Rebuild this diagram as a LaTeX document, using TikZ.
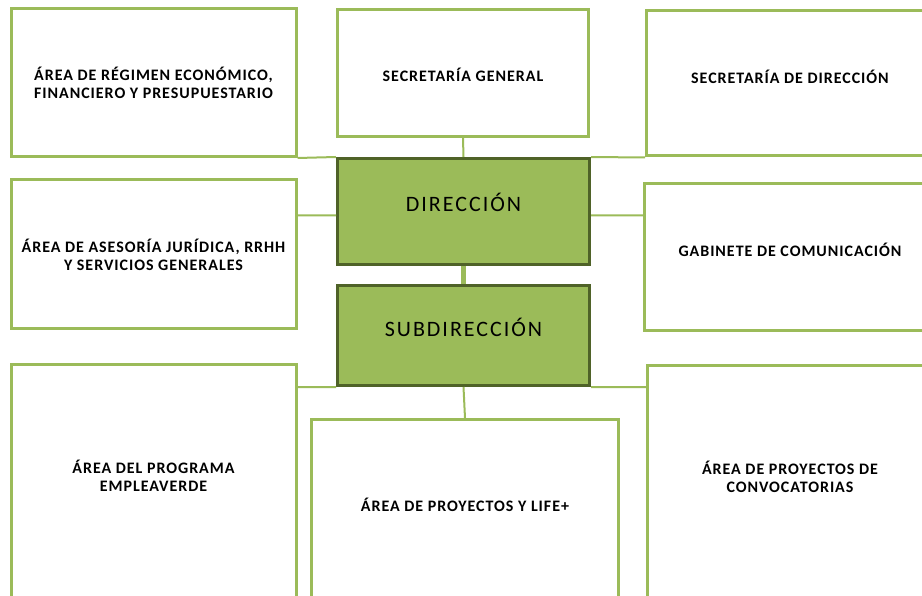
\documentclass[tikz,border=0pt]{standalone}
\usepackage{fontspec}
\setmainfont{Carlito}
\newfontfamily\areafont[LetterSpace=6]{Carlito}
\newfontfamily\jefefont[LetterSpace=9]{Carlito}
\usepackage{xcolor}
\usetikzlibrary{positioning}
\definecolor{verde}{HTML}{9BBB59}
\definecolor{verdeosc}{HTML}{4F6228}

\begin{document}
\begin{tikzpicture}[x=1pt,y=-1pt,semithick]
	\tikzstyle{area}=[draw=verde,line width=3pt,fill=white,text=black,align=center,inner sep=2pt,font=\areafont\bfseries\fontsize{16}{18}\selectfont]
	\tikzstyle{jefe}=[draw=verdeosc,line width=3pt,fill=verde,text=black,minimum width=252pt,font=\jefefont\fontsize{22}{26}\selectfont]
	\tikzstyle{link}=[draw=verde,line width=2pt]
	
	\useasboundingbox (0,0) rectangle (922,596);
	\clip (0,0) rectangle (922,596);
	
	\node[area,minimum width=285pt,minimum height=148pt] (regimen) at (153.5,82.5) {ÁREA DE RÉGIMEN ECONÓMICO,\\FINANCIERO Y PRESUPUESTARIO};
	\node[area,minimum width=251pt,minimum height=127pt,text height=18pt] (secgen) at (463,73) {SECRETARÍA GENERAL};
	\node[area,minimum width=287pt,minimum height=145pt,text depth=14pt] (secdir) at (790,83.5) {SECRETARÍA DE DIRECCIÓN};
	
	\node[jefe,minimum height=106pt,text depth=19pt] (dir) at (463.5,211.5) {DIRECCIÓN};
	\node[area,minimum width=285pt,minimum height=149pt] (asesoria) at (153.5,254.5) {ÁREA DE ASESORÍA JURÍDICA, RRHH\\Y SERVICIOS GENERALES};
	\node[area,minimum width=291pt,minimum height=147pt,text depth=14pt] (gabinete) at (790,257) {GABINETE DE COMUNICACIÓN};
	
	\node[jefe,minimum height=100pt,text depth=16pt] (subdir) at (463.5,335.5) {SUBDIRECCIÓN};
	\node[area,minimum width=285pt,minimum height=235pt,text depth=12pt] (empleo) at (153.5,482) {ÁREA DEL PROGRAMA\\EMPLEAVERDE};
	\node[area,minimum width=307pt,minimum height=181pt,text depth=10pt] (life) at (465,510) {ÁREA DE PROYECTOS Y LIFE+};
	\node[area,minimum width=285pt,minimum height=234pt,text depth=12pt] (convoc) at (790,483) {ÁREA DE PROYECTOS DE\\CONVOCATORIAS};
	
	\path[link] (secgen.south) -- (dir.north)
	(regimen.south east) -- (dir.north west)
	(dir.north east) -- (secdir.south west)
	([yshift=-4pt]dir.west) -- ([yshift=-4pt]dir.west -| asesoria.east)
	([yshift=-4pt]dir.east) -- ([yshift=-4pt]dir.east -| gabinete.west)
	(subdir.south west) -- (subdir.south west -| empleo.east)
	(subdir.south) -- (life.north)
	(subdir.south east) -- (subdir.south east -| convoc.west);
	\draw[link,line width=5pt] (dir.south) -- (subdir.north);
\end{tikzpicture}
\end{document}
